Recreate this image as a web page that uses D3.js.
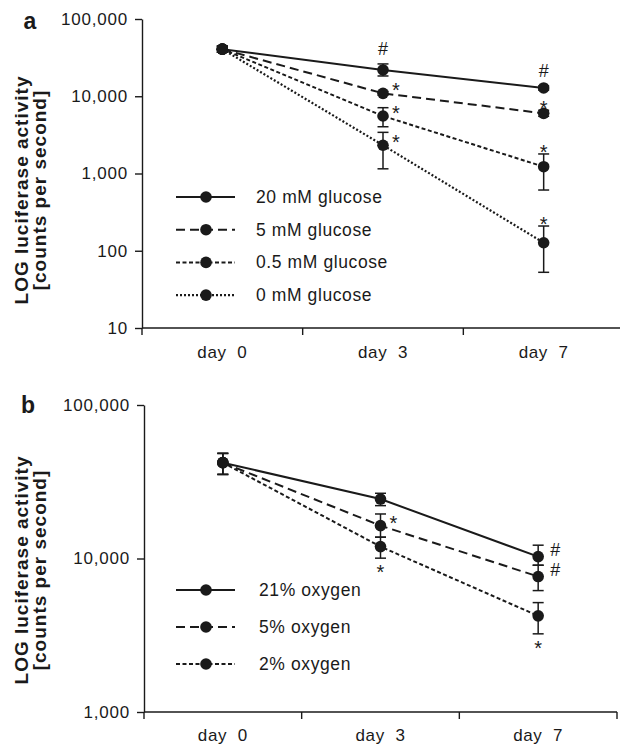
<!DOCTYPE html>
<html>
<head>
<meta charset="utf-8">
<script src="https://cdn.jsdelivr.net/npm/d3@7"></script>
<style>
  html, body { margin: 0; padding: 0; background: #fff; }
  svg { display: block; }
  text { font-family: "Liberation Sans", Arial, Helvetica, sans-serif; fill: #1a1a1a; }
</style>
</head>
<body>
<svg id="chart" width="620" height="746"></svg>
<script>
// ---------- data ----------
const categories = ["day  0", "day  3", "day  7"];

const glucoseNames = ["20 mM glucose", "5 mM glucose", "0.5 mM glucose", "0 mM glucose"];
const glucoseMean = [
  [40700, 21900, 12800],
  [40700, 10900, 6010],
  [40700, 5550, 1225],
  [40700, 2320, 127]
];
const glucoseLow = [
  [37200, 18300, 12000],
  [37200, 10300, 5500],
  [37200, 4030, 611],
  [37200, 1150, 52.6]
];
const glucoseHigh = [
  [44500, 26200, 13600],
  [44500, 11550, 6570],
  [44500, 7110, 1790],
  [44500, 3410, 209]
];
const glucoseTicks = [10, 100, 1000, 10000, 100000];
const glucoseNotes = [
  { s: 0, d: 1, sym: "#", at: "above" },
  { s: 0, d: 2, sym: "#", at: "above" },
  { s: 1, d: 1, sym: "*", at: "right" },
  { s: 2, d: 1, sym: "*", at: "right" },
  { s: 3, d: 1, sym: "*", at: "right" },
  { s: 1, d: 2, sym: "*", at: "above" },
  { s: 2, d: 2, sym: "*", at: "above" },
  { s: 3, d: 2, sym: "*", at: "above" }
];

const oxygenNames = ["21% oxygen", "5% oxygen", "2% oxygen"];
const oxygenMean = [
  [42100, 24400, 10290],
  [42100, 16370, 7630],
  [42100, 11950, 4230]
];
const oxygenLow = [
  [35300, 22100, 9040],
  [35300, 13770, 6180],
  [35300, 10050, 3230]
];
const oxygenHigh = [
  [48400, 26600, 12210],
  [48400, 19500, 9040],
  [48400, 13770, 5160]
];
const oxygenTicks = [1000, 10000, 100000];
const oxygenNotes = [
  { s: 1, d: 1, sym: "*", at: "right" },
  { s: 2, d: 1, sym: "*", at: "below" },
  { s: 0, d: 2, sym: "#", at: "right" },
  { s: 1, d: 2, sym: "#", at: "right" },
  { s: 2, d: 2, sym: "*", at: "below" }
];

const yTitle = ["LOG luciferase activity", "[counts per second]"];

// ---------- styles ----------
const INK = "#1a1a1a";
const dashStyles = ["none", "9,5", "4,2.5", "2,2"];

const svg = d3.select("#chart");

function drawPanel(cfg) {
  const g = svg.append("g");
  const x = d3.scaleBand().domain(categories).range([cfg.x0, cfg.x1]).paddingInner(0).paddingOuter(0);
  const cx = c => x(c) + x.bandwidth() / 2;
  const y = d3.scaleLog().domain(cfg.domain).range([cfg.yBottom, cfg.yTop]);

  // y axis
  const yAxis = d3.axisLeft(y)
    .tickValues(cfg.ticks)
    .tickFormat(d3.format(","))
    .tickSize(7).tickSizeOuter(0).tickPadding(7);
  const ya = g.append("g").attr("transform", `translate(${cfg.x0},0)`).call(yAxis);
  ya.select(".domain").attr("stroke", INK).attr("stroke-width", 1.4);
  ya.selectAll(".tick line").attr("stroke", INK).attr("stroke-width", 1.4);
  ya.selectAll(".tick text")
    .attr("fill", INK)
    .style("font-family", '"Liberation Sans", Arial, sans-serif')
    .style("font-size", "17px")
    .style("letter-spacing", "0.8px");

  // x axis
  const xa = g.append("g");
  xa.append("line")
    .attr("x1", cfg.x0).attr("x2", cfg.x1)
    .attr("y1", cfg.yBottom).attr("y2", cfg.yBottom)
    .attr("stroke", INK).attr("stroke-width", 1.4);
  const tickXs = categories.map(c => x(c)).concat(cfg.endTick ? [cfg.x1] : []);
  xa.selectAll("line.xt").data(tickXs).join("line")
    .attr("class", "xt")
    .attr("x1", d => d).attr("x2", d => d)
    .attr("y1", cfg.yBottom).attr("y2", cfg.yBottom + 7)
    .attr("stroke", INK).attr("stroke-width", 1.4);
  xa.selectAll("text").data(categories).join("text")
    .attr("x", d => cx(d))
    .attr("y", cfg.yBottom + cfg.labelOffset)
    .attr("text-anchor", "middle")
    .style("white-space", "pre")
    .style("font-size", "17px")
    .style("letter-spacing", "0.6px")
    .text(d => d);

  // y title
  const midY = cfg.titleY;
  yTitle.forEach((t, i) => {
    g.append("text")
      .attr("transform", `translate(${28 + i * 18},${midY}) rotate(-90)`)
      .attr("text-anchor", "middle")
      .style("font-size", "19px")
      .style("font-weight", "bold")
      .style("letter-spacing", "1px")
      .text(t);
  });

  // panel letter
  g.append("text")
    .attr("x", cfg.letterX).attr("y", cfg.letterY)
    .attr("text-anchor", "middle")
    .style("font-size", "23px")
    .style("font-weight", "bold")
    .text(cfg.letter);

  // series
  const series = cfg.names.map((name, i) => ({
    name, i,
    pts: categories.map((c, j) => ({ c, v: cfg.mean[i][j], lo: cfg.low[i][j], hi: cfg.high[i][j] }))
  }));

  const line = d3.line().x(d => cx(d.c)).y(d => y(d.v));
  g.append("g").selectAll("path").data(series).join("path")
    .attr("d", d => line(d.pts))
    .attr("fill", "none")
    .attr("stroke", INK)
    .attr("stroke-width", d => d.i === 3 ? 2.2 : 2)
    .attr("stroke-dasharray", d => dashStyles[d.i]);

  // error bars
  const eb = g.append("g");
  series.forEach(s => {
    s.pts.forEach(p => {
      const px = cx(p.c);
      eb.append("line").attr("x1", px).attr("x2", px).attr("y1", y(p.hi)).attr("y2", y(p.lo))
        .attr("stroke", INK).attr("stroke-width", 1.5);
      [p.hi, p.lo].forEach(v => {
        eb.append("line").attr("x1", px - 5.5).attr("x2", px + 5.5).attr("y1", y(v)).attr("y2", y(v))
          .attr("stroke", INK).attr("stroke-width", 1.5);
      });
    });
  });

  // markers
  g.append("g").selectAll("circle")
    .data(series.flatMap(s => s.pts))
    .join("circle")
    .attr("cx", d => cx(d.c)).attr("cy", d => y(d.v)).attr("r", 5.8)
    .attr("fill", INK);

  // significance notes
  cfg.notes.forEach(n => {
    const c = categories[n.d];
    const px = cx(c);
    const v = cfg.mean[n.s][n.d];
    let tx = px, ty;
    if (n.at === "above") {
      ty = n.sym === "#" ? y(cfg.high[n.s][n.d]) - 9 : y(cfg.high[n.s][n.d]) + 5;
    } else if (n.at === "below") {
      ty = y(cfg.low[n.s][n.d]) + 21;
    } else {
      tx = px + (n.sym === "#" ? 17 : 13);
      ty = n.sym === "#" ? y(v) - 1 : y(v) + 4;
    }
    g.append("text")
      .attr("x", tx).attr("y", ty)
      .attr("text-anchor", "middle")
      .style("font-size", n.sym === "#" ? "18px" : "20px")
      .text(n.sym);
  });

  // legend
  const lg = g.append("g");
  series.forEach((s, i) => {
    const ly = cfg.legendY + i * cfg.legendStep;
    lg.append("line").attr("x1", 176).attr("x2", 235).attr("y1", ly).attr("y2", ly)
      .attr("stroke", INK).attr("stroke-width", i === 3 ? 2.2 : 2).attr("stroke-dasharray", dashStyles[i]);
    lg.append("circle").attr("cx", 206).attr("cy", ly).attr("r", 5.8).attr("fill", INK);
    lg.append("text").attr("x", cfg.legendTextX).attr("y", ly + 6)
      .style("font-size", "17.5px")
      .style("letter-spacing", "0.6px")
      .text(s.name);
  });
}

drawPanel({
  letter: "a", letterX: 30, letterY: 29,
  x0: 142, x1: 624, endTick: false,
  yTop: 19, yBottom: 328, domain: [10, 100000], ticks: glucoseTicks,
  names: glucoseNames, mean: glucoseMean, low: glucoseLow, high: glucoseHigh, notes: glucoseNotes,
  labelOffset: 30, titleY: 190,
  legendY: 197, legendStep: 32.7, legendTextX: 256
});

drawPanel({
  letter: "b", letterX: 28, letterY: 413,
  x0: 144, x1: 617, endTick: true,
  yTop: 405, yBottom: 712, domain: [1000, 100000], ticks: oxygenTicks,
  names: oxygenNames, mean: oxygenMean, low: oxygenLow, high: oxygenHigh, notes: oxygenNotes,
  labelOffset: 29, titleY: 570,
  legendY: 590, legendStep: 37, legendTextX: 259
});
</script>
</body>
</html>
